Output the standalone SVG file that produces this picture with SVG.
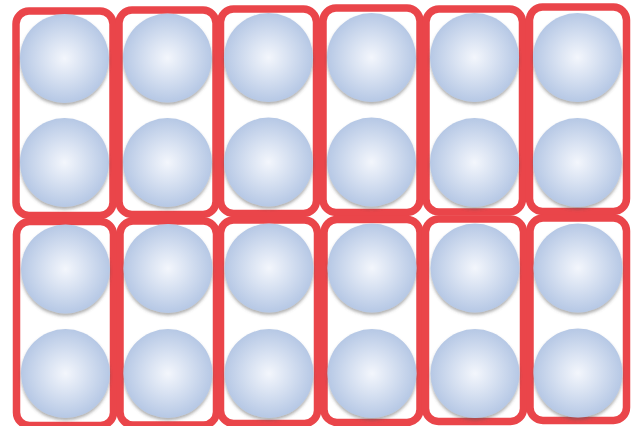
<svg xmlns="http://www.w3.org/2000/svg" width="635" height="426" viewBox="0 0 635 426">
<defs>
<radialGradient id="ball" cx="50%" cy="50%" r="50%">
<stop offset="0" stop-color="#f3f6fc"/>
<stop offset="0.4" stop-color="#dbe4f3"/>
<stop offset="1" stop-color="#b6c8e5"/>
</radialGradient>
<filter id="sh" x="-20%" y="-20%" width="140%" height="150%">
<feDropShadow dx="0" dy="2.5" stdDeviation="1.5" flood-color="#555" flood-opacity="0.45"/>
</filter>
</defs>
<style>
.box{fill:#fff;stroke:#ea454a;stroke-width:7.5}
.ball{fill:url(#ball);filter:url(#sh)}
</style>
<rect width="635" height="426" fill="#fff"/>
<g id="top-row">
<g id="box-t1"><rect class="box" x="16" y="11" width="97" height="204.5" rx="13"/><circle class="ball" cx="64.5" cy="58.5" r="44.5"/><circle class="ball" cx="64.5" cy="162.5" r="44.5"/></g>
<g id="box-t2"><rect class="box" x="119" y="10" width="97" height="204.5" rx="13"/><circle class="ball" cx="167.5" cy="58" r="44.5"/><circle class="ball" cx="167.5" cy="162.5" r="44.5"/></g>
<g id="box-t3"><rect class="box" x="220.5" y="9" width="96" height="204.5" rx="13"/><circle class="ball" cx="268.5" cy="57.5" r="44.5"/><circle class="ball" cx="268.5" cy="162" r="44.5"/></g>
<g id="box-t4"><rect class="box" x="323" y="8" width="97" height="204.5" rx="13"/><circle class="ball" cx="371.5" cy="57.5" r="44.5"/><circle class="ball" cx="371.5" cy="162" r="44.5"/></g>
<g id="box-t5"><rect class="box" x="426" y="9" width="96.5" height="203" rx="13"/><circle class="ball" cx="474.5" cy="57.5" r="44.5"/><circle class="ball" cx="474.5" cy="162.5" r="44.5"/></g>
<g id="box-t6"><rect class="box" x="529.5" y="7" width="97" height="204.5" rx="13"/><circle class="ball" cx="577.5" cy="57.5" r="44.5"/><circle class="ball" cx="577.5" cy="162.5" r="44.5"/></g>
</g>
<g id="bottom-row">
<g id="box-b1"><rect class="box" x="16.5" y="221.5" width="97" height="204" rx="13"/><circle class="ball" cx="65.5" cy="269" r="44.5"/><circle class="ball" cx="65.5" cy="373.5" r="44.5"/></g>
<g id="box-b2"><rect class="box" x="120" y="221" width="96.5" height="204" rx="13"/><circle class="ball" cx="168" cy="268.5" r="44.5"/><circle class="ball" cx="168" cy="373.5" r="44.5"/></g>
<g id="box-b3"><rect class="box" x="220.5" y="220" width="97" height="203.5" rx="13"/><circle class="ball" cx="269" cy="268" r="44.5"/><circle class="ball" cx="269" cy="373.5" r="44.5"/></g>
<g id="box-b4"><rect class="box" x="324" y="219.5" width="96" height="203" rx="13"/><circle class="ball" cx="372" cy="268" r="44.5"/><circle class="ball" cx="372" cy="373.5" r="44.5"/></g>
<g id="box-b5"><rect class="box" x="425.5" y="219" width="98" height="202.5" rx="13"/><circle class="ball" cx="475" cy="268" r="44.5"/><circle class="ball" cx="475" cy="373.5" r="44.5"/></g>
<g id="box-b6"><rect class="box" x="530" y="218" width="96.5" height="202.5" rx="13"/><circle class="ball" cx="578" cy="268" r="44.5"/><circle class="ball" cx="578" cy="373" r="44.5"/></g>
</g>
</svg>
